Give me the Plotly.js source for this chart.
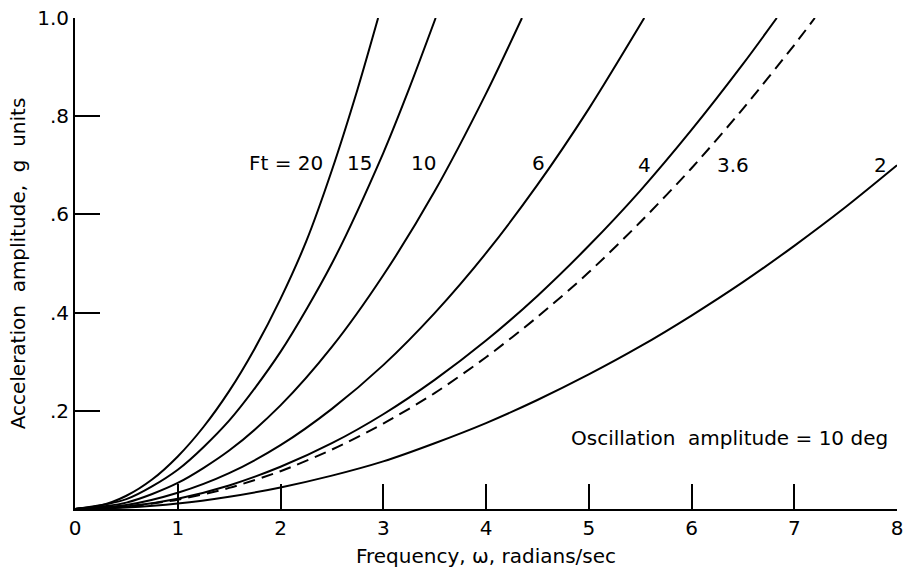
<!DOCTYPE html>
<html>
<head>
<meta charset="utf-8">
<script src="https://cdn.plot.ly/plotly-3.0.1.min.js"></script>
<style>html,body{margin:0;padding:0;background:#fff;}#chart{width:907px;height:577px;}</style>
</head>
<body>
<div id="chart"></div>
<script>
// Frequency (rad/sec) and acceleration amplitude (g units)
const ft20_x = [0, 0.25, 0.5, 0.75, 1.0, 1.25, 1.5, 1.75, 2.0, 2.25, 2.5, 2.75, 2.95];
const ft20_y = [0, 0.007, 0.027, 0.06, 0.107, 0.167, 0.24, 0.327, 0.428, 0.545, 0.69, 0.855, 1.0];

const ft15_x = [0, 0.5, 1.0, 1.5, 2.0, 2.5, 3.0, 3.25, 3.51];
const ft15_y = [0, 0.02, 0.08, 0.18, 0.32, 0.50, 0.725, 0.855, 1.0];

const ft10_x = [0, 0.5, 1.0, 1.5, 2.0, 2.5, 3.0, 3.5, 4.0, 4.35];
const ft10_y = [0, 0.013, 0.053, 0.119, 0.211, 0.33, 0.476, 0.647, 0.846, 1.0];

const ft6_x = [0, 0.5, 1.0, 1.5, 2.0, 2.5, 3.0, 3.5, 4.0, 4.5, 5.0, 5.54];
const ft6_y = [0, 0.008, 0.033, 0.073, 0.130, 0.204, 0.293, 0.399, 0.521, 0.660, 0.815, 1.0];

const ft4_x = [0, 0.5, 1.0, 1.5, 2.0, 2.5, 3.0, 3.5, 4.0, 4.5, 5.0, 5.5, 6.0, 6.5, 6.83];
const ft4_y = [0, 0.005, 0.021, 0.048, 0.086, 0.134, 0.193, 0.263, 0.343, 0.434, 0.536, 0.648, 0.772, 0.906, 1.0];

const ft36_x = [0, 0.5, 1.0, 1.5, 2.0, 2.5, 3.0, 3.5, 4.0, 4.5, 5.0, 5.5, 6.0, 6.5, 7.0, 7.2];
const ft36_y = [0, 0.005, 0.019, 0.043, 0.077, 0.121, 0.174, 0.236, 0.309, 0.391, 0.482, 0.584, 0.694, 0.815, 0.945, 1.0];

const ft2_x = [0, 0.5, 1.0, 1.5, 2.0, 2.5, 3.0, 3.5, 4.0, 4.5, 5.0, 5.5, 6.0, 6.5, 7.0, 7.5, 8.0];
const ft2_y = [0, 0.003, 0.011, 0.025, 0.044, 0.068, 0.097, 0.134, 0.175, 0.222, 0.274, 0.331, 0.394, 0.462, 0.536, 0.615, 0.70];

const xTickVals = [0, 1, 2, 3, 4, 5, 6, 7, 8];
const xTickText = ['0', '1', '2', '3', '4', '5', '6', '7', '8'];
const yTickVals = [0, 0.2, 0.4, 0.6, 0.8, 1.0];
const yTickText = ['', '.2', '.4', '.6', '.8', '1.0'];

const curveLabels = ['Ft = 20', '15', '10', '6', '4', '3.6', '2'];
const noteText = 'Oscillation  amplitude = 10 deg';

const FONT = 'DejaVu Sans, Liberation Sans, sans-serif';
const solid = {color: '#000', width: 2, shape: 'spline', smoothing: 0.8};
const dashed = {color: '#000', width: 2, shape: 'spline', smoothing: 0.8, dash: '12px,7px'};

const series = [
  [ft20_x, ft20_y, solid], [ft15_x, ft15_y, solid], [ft10_x, ft10_y, solid],
  [ft6_x, ft6_y, solid], [ft4_x, ft4_y, solid], [ft36_x, ft36_y, dashed], [ft2_x, ft2_y, solid]
];
const traces = series.map(s => ({x: s[0], y: s[1], mode: 'lines', line: s[2], hoverinfo: 'skip'}));

const labelPos = [[2.05, 0.705], [2.77, 0.705], [3.39, 0.705], [4.51, 0.705], [5.54, 0.700], [6.40, 0.700], [7.84, 0.700]];
const annotations = curveLabels.map((t, i) => ({
  x: labelPos[i][0], y: labelPos[i][1], xref: 'x', yref: 'y', text: t, showarrow: false,
  font: {family: FONT, size: 20, color: '#000'}
}));
annotations.push({x: 6.37, y: 0.145, xref: 'x', yref: 'y', text: noteText, showarrow: false,
  font: {family: FONT, size: 20, color: '#000'}});

const layout = {
  width: 907, height: 577,
  margin: {l: 75, r: 10, t: 18, b: 68},
  paper_bgcolor: '#fff', plot_bgcolor: '#fff',
  showlegend: false,
  font: {family: FONT, size: 20, color: '#000'},
  xaxis: {
    range: [0, 8], showgrid: false, zeroline: false,
    showline: true, linecolor: '#000', linewidth: 2,
    ticks: 'inside', ticklen: 25, tickwidth: 2, tickcolor: '#000',
    tickvals: xTickVals, ticktext: xTickText,
    tickfont: {family: FONT, size: 20},
    title: {text: 'Frequency, \u03c9, radians/sec', font: {family: FONT, size: 20}, standoff: 10}
  },
  yaxis: {
    range: [0, 1.0], showgrid: false, zeroline: false,
    showline: true, linecolor: '#000', linewidth: 2,
    ticks: 'inside', ticklen: 25, tickwidth: 2, tickcolor: '#000',
    tickvals: yTickVals, ticktext: yTickText,
    tickfont: {family: FONT, size: 20},
    title: {text: 'Acceleration  amplitude,  g  units', font: {family: FONT, size: 20}, standoff: 6}
  },
  annotations: annotations
};

Plotly.newPlot('chart', traces, layout, {staticPlot: true, displayModeBar: false});
</script>
</body>
</html>
